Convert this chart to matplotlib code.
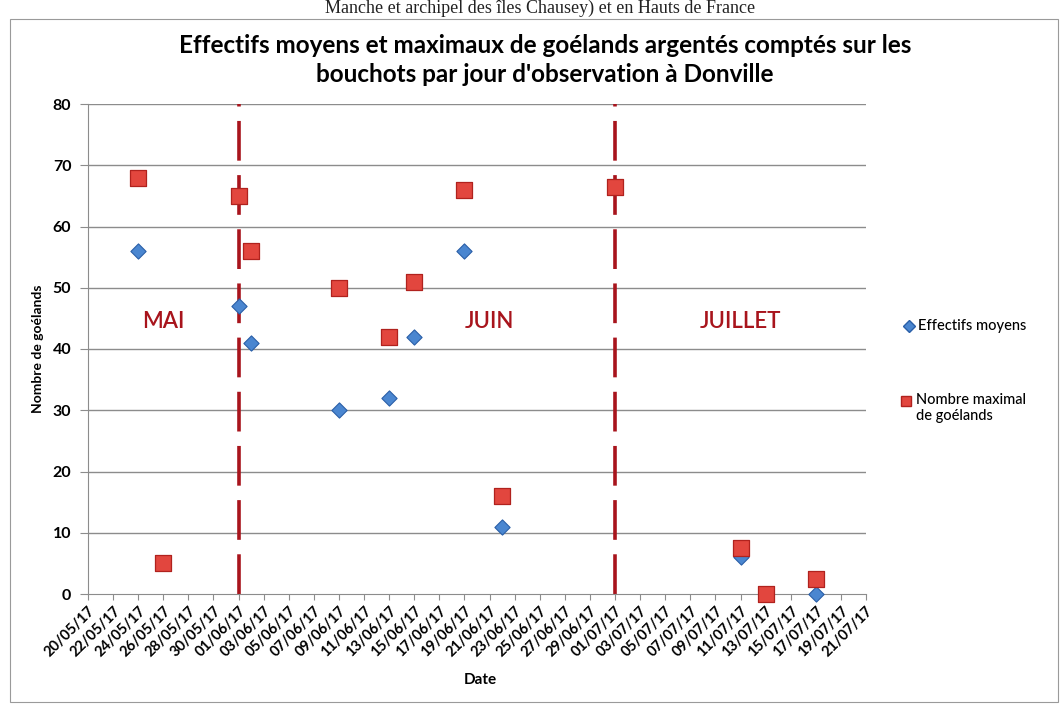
import matplotlib
matplotlib.use("Agg")
import matplotlib.pyplot as plt
import matplotlib.dates as mdates
from matplotlib.patches import Rectangle
from matplotlib.lines import Line2D
import pandas as pd

# ---- data ----
dates_mean = ["2017-05-24", "2017-06-01", "2017-06-02", "2017-06-09", "2017-06-13",
              "2017-06-15", "2017-06-19", "2017-06-22", "2017-07-11", "2017-07-13", "2017-07-17"]
mean_vals = [56, 47, 41, 30, 32, 42, 56, 11, 6, 0, 0]

dates_max = ["2017-05-24", "2017-05-26", "2017-06-01", "2017-06-02", "2017-06-09", "2017-06-13",
             "2017-06-15", "2017-06-19", "2017-06-22", "2017-07-01", "2017-07-11", "2017-07-13", "2017-07-17"]
max_vals = [68, 5, 65, 56, 50, 42, 51, 66, 16, 66.5, 7.5, 0, 2.5]

month_bounds = ["2017-06-01", "2017-07-01"]
month_labels = ["MAI", "JUIN", "JUILLET"]
month_label_dates = ["2017-05-26", "2017-06-21", "2017-07-11"]
x_start, x_end = "2017-05-20", "2017-07-21"
y_ticks = [0, 10, 20, 30, 40, 50, 60, 70, 80]

title = "Effectifs moyens et maximaux de goélands argentés comptés sur les\nbouchots par jour d'observation à Donville"
header = "Manche et archipel des îles Chausey) et en Hauts de France"

# ---- figure ----
W, H = 1064, 705
fig = plt.figure(figsize=(W / 100, H / 100), dpi=100)
fig.patch.set_facecolor("white")
FONT = "Lato"
dark_red = "#A8141C"

# scanned page elements
fig.text(540 / W, 1 - 13 / H, header, ha="center", va="baseline",
         fontsize=13, family="Liberation Serif", color="#222222")
fig.patches.append(Rectangle((10 / W, 3 / H), 1048 / W, 683 / H, transform=fig.transFigure,
                             fill=False, edgecolor="#9a9a9a", linewidth=0.8))

ax = fig.add_axes([88 / W, 1 - 594 / H, (866 - 88) / W, (594 - 104) / H])

xm = mdates.date2num(pd.to_datetime(dates_mean))
xM = mdates.date2num(pd.to_datetime(dates_max))
x0 = mdates.date2num(pd.to_datetime(x_start))
x1 = mdates.date2num(pd.to_datetime(x_end))

ax.set_xlim(x0, x1)
ax.set_ylim(0, 80)

# grid
for y in y_ticks[1:]:
    ax.axhline(y, color="#8c8c8c", linewidth=1.0, zorder=1)

# month separators
for d in month_bounds:
    xd = mdates.date2num(pd.to_datetime(d))
    ax.plot([xd, xd], [0, 80], color=dark_red, linewidth=2.6, dashes=(11, 4), zorder=2)

# month labels
for lab, d in zip(month_labels, month_label_dates):
    xd = mdates.date2num(pd.to_datetime(d))
    ax.text(xd, 44.5, lab, ha="center", va="center", fontsize=16, color=dark_red,
            family=FONT, fontweight="semibold")

# series
ax.scatter(xm, mean_vals, marker="D", s=60, color="#4A86D0", edgecolor="#2A5FA8",
           linewidth=0.8, zorder=3, clip_on=False)
ax.scatter(xM, max_vals, marker="s", s=120, color="#E2463E", edgecolor="#B0221E",
           linewidth=0.9, zorder=4, clip_on=False)

# axes styling
for s in ["top", "right"]:
    ax.spines[s].set_visible(False)
ax.spines["left"].set_color("#8c8c8c")
ax.spines["bottom"].set_color("#8c8c8c")
ax.spines["bottom"].set_linestyle((0, (1, 1)))

ticks = pd.date_range(x_start, x_end, freq="2D")
tick_labels = [t.strftime("%d/%m/%y") for t in ticks]
ax.set_xticks(mdates.date2num(ticks))
ax.set_xticklabels(tick_labels, rotation=45, ha="right", rotation_mode="anchor",
                   fontsize=10.5, fontweight="bold", family=FONT)
ax.tick_params(axis="x", length=4, color="#8c8c8c", pad=3)
ax.set_yticks(y_ticks)
ax.set_yticklabels([str(v) for v in y_ticks], fontsize=11.5, fontweight="bold", family=FONT)
ax.tick_params(axis="y", length=6, color="#8c8c8c", pad=6)

ax.set_ylabel("Nombre de goélands", fontsize=10, fontweight="bold", family=FONT, labelpad=6)
fig.text(480 / W, 1 - 680 / H, "Date", ha="center", va="center", fontsize=11,
         fontweight="bold", family=FONT)

fig.text(545 / W, 1 - 60 / H, title, ha="center", va="center", fontsize=17.5,
         fontweight="bold", family=FONT, linespacing=1.35)

# legend (manual)
fig.lines.append(Line2D([909 / W], [1 - 326 / H], marker="D", markersize=6,
                        color="#4A86D0", markeredgecolor="#2A5FA8", transform=fig.transFigure))
fig.text(918 / W, 1 - 326 / H, "Effectifs moyens", ha="left", va="center",
         fontsize=10.5, family=FONT, fontweight="medium")
fig.lines.append(Line2D([906 / W], [1 - 401 / H], marker="s", markersize=7,
                        color="#E2463E", markeredgecolor="#B0221E", transform=fig.transFigure))
fig.text(916 / W, 1 - 393 / H, "Nombre maximal\nde goélands", ha="left", va="top",
         fontsize=10.5, family=FONT, fontweight="medium", linespacing=1.15)

fig.savefig("out.png", dpi=100, facecolor="white")
